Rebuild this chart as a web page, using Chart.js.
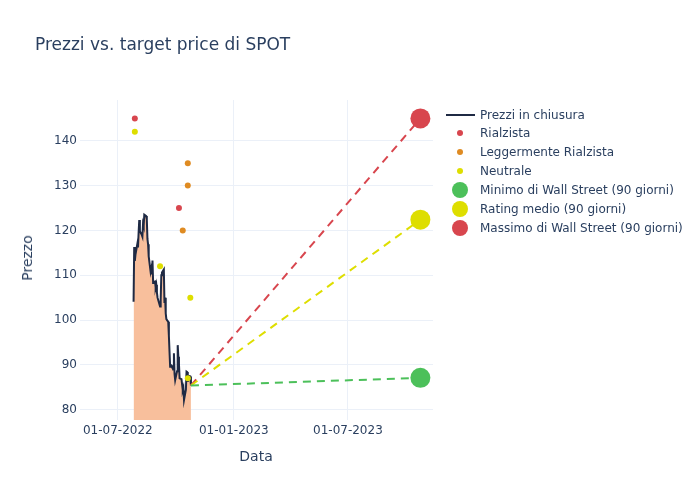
<!DOCTYPE html>
<html><head><meta charset="utf-8">
<script src="https://cdn.jsdelivr.net/npm/chart.js@4.4.1/dist/chart.umd.min.js"></script>
<style>
body{margin:0;background:#fff;}
#wrap{position:relative;width:700px;height:500px;font-family:"DejaVu Sans",sans-serif;color:#2a3f5f;overflow:hidden;}
canvas{position:absolute;left:0;top:0;}
.t{position:absolute;white-space:nowrap;line-height:1;}
.lg{position:absolute;left:440px;height:19px;width:260px;font-size:12px;}
.lg span.txt{position:absolute;left:40px;top:50%;transform:translateY(-50%);white-space:nowrap;}
.mk{position:absolute;border-radius:50%;}
</style></head><body>
<div id="wrap">
<canvas id="c" width="700" height="500"></canvas>
<div class="t" style="left:35px;top:36px;font-size:17px">Prezzi vs. target price di SPOT</div>
<div class="t" style="left:256px;top:456px;font-size:14px;transform:translate(-50%,-50%)">Data</div>
<div class="t" style="left:27px;top:258px;font-size:14px;transform:translate(-50%,-50%) rotate(-90deg)">Prezzo</div>
<div id="legend"></div>
</div>
<script>
// ---- data ----
const priceDates = [
 '2022-07-26','2022-07-27','2022-07-28','2022-07-29',
 '2022-08-01','2022-08-02','2022-08-03','2022-08-04','2022-08-05','2022-08-08','2022-08-09','2022-08-10','2022-08-11','2022-08-12',
 '2022-08-15','2022-08-16','2022-08-17','2022-08-18','2022-08-19','2022-08-22','2022-08-23','2022-08-24','2022-08-25','2022-08-26',
 '2022-08-29','2022-08-30','2022-08-31','2022-09-01','2022-09-02','2022-09-06','2022-09-07','2022-09-08','2022-09-09',
 '2022-09-12','2022-09-13','2022-09-14','2022-09-15','2022-09-16','2022-09-19','2022-09-20','2022-09-21','2022-09-22','2022-09-23',
 '2022-09-26','2022-09-27','2022-09-28','2022-09-29','2022-09-30','2022-10-03','2022-10-04','2022-10-05','2022-10-06','2022-10-07',
 '2022-10-10','2022-10-11','2022-10-12','2022-10-13','2022-10-14','2022-10-17','2022-10-18','2022-10-19','2022-10-20','2022-10-21',
 '2022-10-24','2022-10-25'];
const priceValues = [
 104.1,116.3,113.2,114.6,
 117.0,116.2,119.5,122.3,119.8,119.0,118.6,121.5,121.0,123.5,
 123.2,122.4,118.1,116.9,114.2,110.8,111.5,110.2,113.3,108.4,
 108.6,107.3,107.9,106.2,105.0,103.0,104.6,110.0,110.6,
 111.3,103.8,105.0,101.5,100.2,99.6,96.5,93.0,89.6,90.0,
 89.2,89.8,92.6,88.0,86.6,88.6,94.4,91.8,90.2,87.0,
 86.8,85.6,84.4,84.9,82.2,84.5,88.5,88.4,86.2,87.6,
 87.4,85.4];
const rialzistaDates = ['2022-07-28','2022-10-06'];
const rialzistaValues = [145,125];
const leggDates = ['2022-10-20','2022-10-20','2022-10-12'];
const leggValues = [135,130,120];
const neutraleDates = ['2022-07-28','2022-09-06','2022-10-24','2022-10-20'];
const neutraleValues = [142,112,105,87];
const targetDate = '2023-10-24';
const targetMin = 87.1;
const targetMean = 122.4;
const targetMax = 145;
const xTickDates = ['2022-07-01','2023-01-01','2023-07-01'];
const yTickValues = [80,90,100,110,120,130,140];
const legendLabels = ['Prezzi in chiusura','Rialzista','Leggermente Rialzista','Neutrale',
 'Minimo di Wall Street (90 giorni)','Rating medio (90 giorni)','Massimo di Wall Street (90 giorni)'];

// ---- styles ----
const C = {line:'#1f2a44', fill:'#f8bf9c', red:'#d8464e', orange:'#df8b22', yellow:'#dede00', green:'#4cc05a', grid:'#ebf0f8', text:'#2a3f5f'};
const dn = s => Date.UTC(+s.slice(0,4), +s.slice(5,7)-1, +s.slice(8,10)) / 864e5;
const pts = (ds, vs) => ds.map((d,i)=>({x:dn(d), y:vs[i]}));
const lastX = dn(priceDates[priceDates.length-1]);
const lastY = priceValues[priceValues.length-1];
const tx = dn(targetDate);
const pad = n => String(n).padStart(2,'0');
const fmt = v => { const d = new Date(v*864e5); return pad(d.getUTCDate())+'-'+pad(d.getUTCMonth()+1)+'-'+d.getUTCFullYear(); };

const dash = (col, ty, ord) => ({type:'line', data:[{x:lastX,y:lastY},{x:tx,y:ty}], borderColor:col, borderWidth:2, borderDash:[8,6], pointRadius:0, fill:false, order:ord});
const big = (col, ty) => ({type:'scatter', data:[{x:tx,y:ty}], backgroundColor:col, borderWidth:0, pointRadius:10, order:0});
const small = (col, d, v) => ({type:'scatter', data:pts(d,v), backgroundColor:col, borderWidth:0, pointRadius:3, order:1});

new Chart(document.getElementById('c'), {
  type:'line',
  data:{datasets:[
    {type:'line', data:pts(priceDates, priceValues), borderColor:C.line, borderWidth:2, backgroundColor:C.fill, fill:'start', pointRadius:0, tension:0, order:5},
    small(C.red, rialzistaDates, rialzistaValues),
    small(C.orange, leggDates, leggValues),
    small(C.yellow, neutraleDates, neutraleValues),
    dash(C.green, targetMin, 3), dash(C.yellow, targetMean, 3), dash(C.red, targetMax, 3),
    big(C.green, targetMin), big(C.yellow, targetMean), big(C.red, targetMax)
  ]},
  options:{
    responsive:false, animation:false, devicePixelRatio:1,
    layout:{padding:{left:0,right:267,top:100,bottom:0}},
    plugins:{legend:{display:false}, tooltip:{enabled:false}, title:{display:false}},
    scales:{
      x:{type:'linear', min:dn('2022-05-02'), max:dn('2023-11-13'),
        grid:{color:C.grid, drawTicks:false, lineWidth:1}, border:{display:false},
        afterFit:s=>{s.height=80;},
        afterBuildTicks:s=>{s.ticks = xTickDates.map(d=>({value:dn(d)}));},
        ticks:{padding:4, color:C.text, font:{family:'DejaVu Sans', size:12}, maxRotation:0, callback:v=>fmt(v)}},
      y:{type:'linear', min:77.7, max:149.1,
        grid:{color:C.grid, drawTicks:false, lineWidth:1}, border:{display:false},
        afterFit:s=>{s.width=80;},
        afterBuildTicks:s=>{s.ticks = yTickValues.map(v=>({value:v}));},
        ticks:{padding:3, color:C.text, font:{family:'DejaVu Sans', size:12}}}
    }
  }
});

// ---- HTML legend ----
const rowsY = [115,133.3,152.3,171,190,209.3,228.3];
const mk = [null,[C.red,3],[C.orange,3],[C.yellow,3],[C.green,8],[C.yellow,8],[C.red,8]];
const lg = document.getElementById('legend');
legendLabels.forEach((lab,i)=>{
  const r = document.createElement('div'); r.className='lg'; r.style.top=(rowsY[i]-9.5)+'px';
  if(i===0){ const l=document.createElement('div'); l.style.cssText='position:absolute;left:6px;top:8.5px;width:29px;height:2px;background:'+C.line; r.appendChild(l); }
  else { const m=document.createElement('div'); m.className='mk'; const rr=mk[i][1]; m.style.cssText+='left:'+(20-rr)+'px;top:'+(9.5-rr)+'px;width:'+(2*rr)+'px;height:'+(2*rr)+'px;background:'+mk[i][0]; r.appendChild(m); }
  const t=document.createElement('span'); t.className='txt'; t.textContent=lab; r.appendChild(t);
  lg.appendChild(r);
});
</script>
</body></html>
